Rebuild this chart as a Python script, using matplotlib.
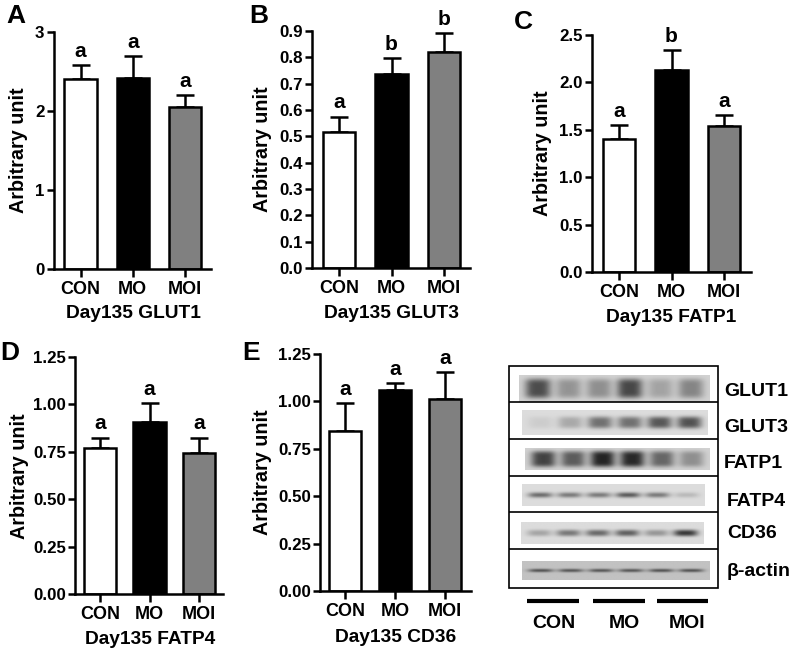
import numpy as np
import matplotlib
matplotlib.use('Agg')
import matplotlib.pyplot as plt

W = 794.
H = 654.

plt.rcParams['font.family'] = ['Liberation Sans', 'DejaVu Sans']
plt.rcParams['font.weight'] = 'bold'

groups = ['CON', 'MO', 'MOI']
bar_colors = ['white', 'black', '#808080']

# bar heights and top of the error bars
glut1_val = [2.40, 2.42, 2.05]
glut1_top = [2.58, 2.69, 2.20]
glut3_val = [0.515, 0.737, 0.82]
glut3_top = [0.575, 0.797, 0.893]
fatp1_val = [1.40, 2.13, 1.54]
fatp1_top = [1.55, 2.34, 1.65]
fatp4_val = [0.77, 0.905, 0.745]
fatp4_top = [0.825, 1.005, 0.825]
cd36_val = [0.845, 1.06, 1.015]
cd36_top = [0.99, 1.095, 1.155]

glut1_let = ['a', 'a', 'a']
glut3_let = ['a', 'b', 'b']
fatp1_let = ['a', 'b', 'a']
fatp4_let = ['a', 'a', 'a']
cd36_let = ['a', 'a', 'a']

glut1_ticks = [0, 1, 2, 3]
glut3_ticks = [0.0, 0.1, 0.2, 0.3, 0.4, 0.5, 0.6, 0.7, 0.8, 0.9]
fatp1_ticks = [0.0, 0.5, 1.0, 1.5, 2.0, 2.5]
fatp4_ticks = [0.00, 0.25, 0.50, 0.75, 1.00, 1.25]
cd36_ticks = [0.00, 0.25, 0.50, 0.75, 1.00, 1.25]

# blot band darkness per lane (grey level, 0 = black)
blot_names = ['GLUT1', 'GLUT3', 'FATP1', 'FATP4', 'CD36', 'β-actin']
blot_bg = [0.82, 0.86, 0.82, 0.86, 0.86, 0.76]
blot_glut1 = [0.30, 0.58, 0.56, 0.28, 0.64, 0.52]
blot_glut3 = [0.80, 0.66, 0.44, 0.44, 0.34, 0.32]
blot_fatp1 = [0.26, 0.36, 0.14, 0.16, 0.40, 0.56]
blot_fatp4 = [0.22, 0.30, 0.30, 0.12, 0.30, 0.66]
blot_cd36 = [0.64, 0.46, 0.40, 0.36, 0.58, 0.20]
blot_actin = [0.14, 0.16, 0.16, 0.16, 0.14, 0.14]

fig = plt.figure(figsize=(W/100., H/100.), dpi=100)

def ftext(x, y, s, **kw):
    return fig.text(x/W, 1-y/H, s, ha=kw.pop('ha', 'center'), va=kw.pop('va', 'center'), **kw)

def panel(val, top, let, ticks, fmt, left, right, y0, ytop, t0, t2, name, letter, lpos, ypos, xpos):
    ax = fig.add_axes([left/W, 1-y0/H, (right-left)/W, (y0-ytop)/H])
    s = (t2-t0)/2.
    ax.set_xlim((left-t0)/s, (right-t0)/s)
    ax.set_ylim(ticks[0], ticks[-1])
    err = np.array(top)-np.array(val)
    x = np.arange(3)
    ax.errorbar(x, val, yerr=[np.zeros(3), err], fmt='none', ecolor='k',
                elinewidth=1.8, capsize=6.5, capthick=1.8, zorder=1)
    ax.bar(x, val, width=32.5/s, color=bar_colors, edgecolor='k', linewidth=1.8, zorder=2)
    for i in x:
        ax.annotate(let[i], (i, top[i]), xytext=(0, 6), textcoords='offset points',
                    ha='center', va='baseline', fontsize=15, annotation_clip=False)
    ax.set_xticks(x)
    ax.set_xticklabels(groups, fontsize=13)
    ax.set_yticks(ticks)
    ax.set_yticklabels([fmt % t for t in ticks], fontsize=12.2)
    ax.tick_params(axis='x', length=5.5, width=1.8, pad=3)
    ax.tick_params(axis='y', length=5, width=1.8, pad=1.5)
    ax.spines['top'].set_visible(False)
    ax.spines['right'].set_visible(False)
    ax.spines['left'].set_linewidth(1.8)
    ax.spines['bottom'].set_linewidth(1.8)
    ftext(lpos[0], lpos[1], letter, fontsize=19)
    ftext(ypos[0], ypos[1], 'Arbitrary unit', fontsize=14.2, rotation=90)
    ftext(xpos[0], xpos[1], name, fontsize=13.8)

panel(glut1_val, glut1_top, glut1_let, glut1_ticks, '%d', 53.5, 211, 269, 32, 80.5, 185,
      'Day135 GLUT1', 'A', (16, 16), (19, 150), (133, 314))
panel(glut3_val, glut3_top, glut3_let, glut3_ticks, '%.1f', 312, 470, 268, 31, 339, 444,
      'Day135 GLUT3', 'B', (259, 16), (263, 149), (392, 313))
panel(fatp1_val, fatp1_top, fatp1_let, fatp1_ticks, '%.1f', 592, 751, 272, 34.7, 619, 724,
      'Day135 FATP1', 'C', (523, 22), (542, 153), (671, 318))
panel(fatp4_val, fatp4_top, fatp4_let, fatp4_ticks, '%.2f', 75, 223, 594, 357, 100, 199,
      'Day135 FATP4', 'D', (10, 353), (20, 476), (150, 640))
panel(cd36_val, cd36_top, cd36_let, cd36_ticks, '%.2f', 320, 471, 591, 354, 345, 445,
      'Day135 CD36', 'E', (251, 353), (263, 472), (396, 637))

# western blot panel, drawn in pixel coordinates
bx = fig.add_axes([0, 0, 1, 1], zorder=-1)
bx.axis('off')

def strip(lanes, bg, pad, thick, x0, x1, y0, y1):
    cols = [bg]
    for d in lanes:
        cols += [d, d, d, bg]
    rows = [[bg]*len(cols)]*pad + [cols]*thick + [[bg]*len(cols)]*pad
    bx.imshow(np.array(rows), cmap='gray', vmin=0, vmax=1, aspect='auto',
              interpolation='bicubic', extent=[x0, x1, y1, y0])

strip(blot_glut1, blot_bg[0], 1, 4, 519, 710, 375, 402)
strip(blot_glut3, blot_bg[1], 2, 3, 522, 708, 410, 435)
strip(blot_fatp1, blot_bg[2], 1, 4, 525, 710, 448, 470)
strip(blot_fatp4, blot_bg[3], 3, 1, 522, 705, 484, 506)
strip(blot_cd36, blot_bg[4], 3, 2, 521, 704, 522, 544)
strip(blot_actin, blot_bg[5], 4, 1, 522, 710, 561, 580)
bx.set_xlim(0, W)
bx.set_ylim(H, 0)

bx.add_patch(plt.Rectangle((509, 366), 209, 222, fill=False, edgecolor='k', linewidth=1.2))
bx.hlines([402, 439, 476, 512, 549], 509, 718, color='k', linewidth=1.2)
bx.hlines([601, 601, 601], [527, 593, 657], [579, 645, 708], color='k', linewidth=3)

ftext(554, 624, 'CON', fontsize=14)
ftext(624, 624, 'MO', fontsize=14)
ftext(687, 624, 'MOI', fontsize=14)

label_x = [724, 724, 724, 727, 727, 727]
label_y = [391, 428, 463, 502, 534, 572]
for i in range(len(blot_names)):
    ftext(label_x[i], label_y[i], blot_names[i], fontsize=14, ha='left')

plt.savefig('out.png', dpi=100)
